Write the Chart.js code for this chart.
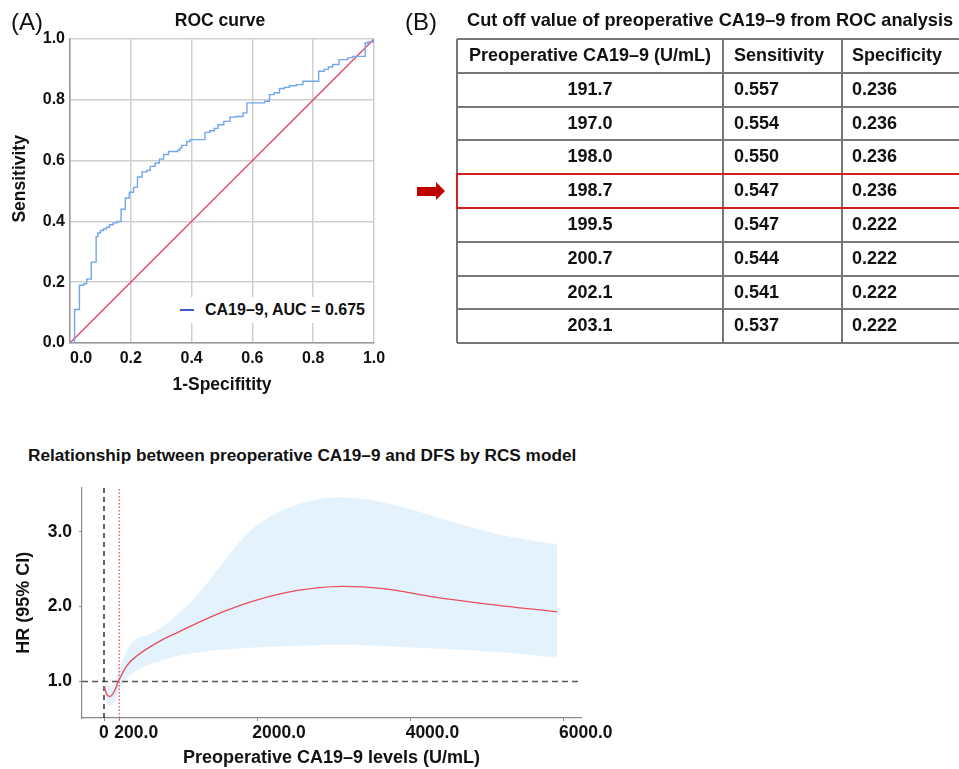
<!DOCTYPE html>
<html><head><meta charset="utf-8">
<script src="https://cdn.jsdelivr.net/npm/chart.js@4.4.1/dist/chart.umd.min.js"></script>
<style>
body{margin:0;width:959px;height:769px;overflow:hidden;background:#fff;position:relative;font-family:"Liberation Sans",Arial,sans-serif;color:#111}
.abs{position:absolute;white-space:nowrap}
.ttl{font-weight:bold;font-size:17.5px;line-height:20px}
canvas{position:absolute;left:0;top:0}
#roc{left:0;top:0}
#rcs{left:0;top:470px}
.hl{position:absolute;height:2px;background:#777}
.vl{position:absolute;width:2px;background:#777}
.cell{position:absolute;font-weight:bold;font-size:18px;white-space:nowrap}
</style></head>
<body>
<canvas id="roc" width="400" height="400"></canvas>
<canvas id="rcs" width="640" height="299"></canvas>

<div class="abs" style="left:11px;top:8px;font-size:24px;line-height:28px">(A)</div>
<div class="abs ttl" style="left:120px;width:200px;text-align:center;top:10px">ROC curve</div>
<div class="abs" style="left:405px;top:8px;font-size:24px;line-height:28px">(B)</div>
<div class="abs ttl" style="left:467px;top:10px;font-size:18.2px">Cut off value of preoperative CA19–9 from ROC analysis</div>
<div class="abs ttl" style="left:28px;top:445px;font-size:17.2px">Relationship between preoperative CA19–9 and DFS by RCS model</div>

<div id="legend" class="abs" style="left:174px;top:297px;width:198px;height:26px;background:#fff">
  <div class="abs" style="left:6px;top:12px;width:14px;height:2px;background:#3a5bc8"></div>
  <div class="abs" style="left:31px;top:3px;font-weight:bold;font-size:16px;line-height:20px">CA19–9, AUC = 0.675</div>
</div>

<div id="table"></div>
<svg class="abs" style="left:415px;top:180px" width="32" height="22"><polygon points="2,7 21,7 21,2 30,11 21,20 21,16 2,16" fill="#c00000"/></svg>

<script>
// ---------- ROC data ----------
const rocFpr = [0, 0.015, 0.031, 0.045, 0.055, 0.07, 0.086, 0.092, 0.1, 0.11, 0.12, 0.13, 0.142, 0.155, 0.168, 0.182, 0.195, 0.209, 0.222, 0.237, 0.253, 0.264, 0.28, 0.294, 0.308, 0.324, 0.355, 0.362, 0.367, 0.384, 0.395, 0.444, 0.46, 0.475, 0.487, 0.506, 0.526, 0.545, 0.569, 0.582, 0.64, 0.656, 0.672, 0.689, 0.705, 0.722, 0.744, 0.766, 0.818, 0.836, 0.85, 0.864, 0.885, 0.913, 0.929, 0.971, 0.98, 1.0];
const rocTpr = [0, 0.11, 0.19, 0.195, 0.21, 0.266, 0.35, 0.362, 0.37, 0.375, 0.381, 0.389, 0.395, 0.40, 0.44, 0.477, 0.496, 0.512, 0.546, 0.563, 0.568, 0.581, 0.592, 0.605, 0.62, 0.63, 0.635, 0.641, 0.65, 0.663, 0.669, 0.693, 0.698, 0.706, 0.718, 0.729, 0.743, 0.745, 0.757, 0.79, 0.795, 0.817, 0.823, 0.837, 0.841, 0.846, 0.85, 0.861, 0.894, 0.9, 0.908, 0.916, 0.932, 0.938, 0.943, 0.987, 0.99, 1.0];
const refLine = [0, 1];
const rocTicks = [0, 0.2, 0.4, 0.6, 0.8, 1.0];

// ---------- Table data ----------
const tableHeader = ['Preoperative CA19–9 (U/mL)', 'Sensitivity', 'Specificity'];
const cutoffs = ['191.7', '197.0', '198.0', '198.7', '199.5', '200.7', '202.1', '203.1'];
const sensitivity = ['0.557', '0.554', '0.550', '0.547', '0.547', '0.544', '0.541', '0.537'];
const specificity = ['0.236', '0.236', '0.236', '0.236', '0.222', '0.222', '0.222', '0.222'];
const highlightIndex = 3;

// ---------- RCS data ----------
const rcsX  = [5, 30, 78, 130, 187, 296, 426, 730, 991, 1300, 1600, 1904, 2339, 2774, 3122, 3643, 4296, 4948, 5913];
const rcsHR = [0.93, 0.84, 0.80, 0.86, 1.0, 1.21, 1.34, 1.54, 1.67, 1.82, 1.95, 2.06, 2.18, 2.25, 2.27, 2.24, 2.13, 2.04, 1.93];
const bandX     = [5, 50, 90, 150, 190, 290, 400, 600, 800, 1000, 1250, 1500, 1904, 2339, 2774, 3035, 3426, 3861, 4513, 5165, 5913];
const bandUpper = [0.98, 0.95, 0.93, 1.03, 1.14, 1.40, 1.55, 1.63, 1.76, 1.93, 2.20, 2.52, 3.01, 3.29, 3.43, 3.46, 3.43, 3.34, 3.14, 2.96, 2.83];
const bandLower = [0.88, 0.70, 0.68, 0.76, 0.86, 1.03, 1.13, 1.23, 1.30, 1.35, 1.39, 1.42, 1.45, 1.47, 1.485, 1.49, 1.485, 1.46, 1.43, 1.39, 1.32];
const cutoffValue = 198.7;
const rcsXTicks = [0, 200, 2000, 4000, 6000];
const rcsYTicks = [1, 2, 3];
const rcsXRange = [-287, 6222];
const rcsYRange = [0.513, 3.59];

Chart.defaults.font.family = '"Liberation Sans", Arial, sans-serif';
Chart.defaults.color = '#111';

// ---------- Table (HTML) ----------
(function(){
  const t = document.getElementById('table');
  const top0 = 39, rowH = 33.8, left0 = 457, c1 = 723, c2 = 842;
  let html = '';
  const rows = [tableHeader].concat(cutoffs.map((c,i)=>[c, sensitivity[i], specificity[i]]));
  for (let i = 0; i <= rows.length; i++) {
    html += `<div class="hl" style="left:${left0}px;width:${959-left0}px;top:${(top0+i*rowH-1).toFixed(1)}px"></div>`;
  }
  [left0, c1, c2].forEach(x => {
    html += `<div class="vl" style="left:${x-1}px;top:${top0}px;height:${rows.length*rowH}px"></div>`;
  });
  rows.forEach((r,i) => {
    const y = top0 + i*rowH;
    html += `<div class="cell" style="left:${left0}px;width:${c1-left0}px;text-align:center;top:${y.toFixed(1)}px;height:${rowH}px;line-height:${rowH}px">${r[0]}</div>`;
    html += `<div class="cell" style="left:${c1+11}px;top:${y.toFixed(1)}px;height:${rowH}px;line-height:${rowH}px">${r[1]}</div>`;
    html += `<div class="cell" style="left:${c2+10}px;top:${y.toFixed(1)}px;height:${rowH}px;line-height:${rowH}px">${r[2]}</div>`;
  });
  const hy = top0 + (highlightIndex+1)*rowH;
  html += `<div style="position:absolute;left:${left0-1}px;top:${(hy-1).toFixed(1)}px;width:600px;height:${(rowH-2).toFixed(1)}px;border:2px solid #d42020"></div>`;
  t.innerHTML = html;
})();

// ---------- ROC chart ----------
new Chart(document.getElementById('roc'), {
  type: 'line',
  data: {
    datasets: [
      { data: rocFpr.map((x,i)=>({x, y: rocTpr[i]})), borderColor: '#72a6ef', borderWidth: 1.4, pointRadius: 0, stepped: 'before', fill: false },
      { data: refLine.map(v=>({x:v, y:v})), borderColor: '#e2405e', borderWidth: 1.3, pointRadius: 0, fill: false }
    ]
  },
  options: {
    responsive: false, animation: false,
    layout: { padding: { top: 39, right: 26, left: 0, bottom: 0 } },
    plugins: { legend: { display: false }, tooltip: { enabled: false } },
    scales: {
      x: {
        type: 'linear', min: 0, max: 1,
        afterBuildTicks: s => { s.ticks = rocTicks.map(v=>({value:v})); },
        afterFit: s => { s.height = 57; },
        ticks: { callback: v => v === 0 ? '     0.0' : Number(v).toFixed(1), padding: 6, autoSkip: false, maxRotation: 0, font: { size: 16, weight: 'bold' }, color: '#111' },
        grid: { color: '#cfcfcf', lineWidth: 1.5, drawTicks: false },
        border: { color: '#9a9a9a', width: 1.5 },
        title: { display: true, text: '1-Specifitity', font: { size: 17.5, weight: 'bold' }, color: '#111', padding: { top: 0, bottom: 4.5 } }
      },
      y: {
        type: 'linear', min: 0, max: 1,
        afterBuildTicks: s => { s.ticks = rocTicks.map(v=>({value:v})); },
        afterFit: s => { s.width = 70; },
        ticks: { callback: v => Number(v).toFixed(1), padding: 5, font: { size: 16, weight: 'bold' }, color: '#111' },
        grid: { color: '#cfcfcf', lineWidth: 1.5, drawTicks: false },
        border: { color: '#9a9a9a', width: 1.5 },
        title: { display: true, text: '     Sensitivity', font: { size: 17.5, weight: 'bold' }, color: '#111', padding: { top: 9.5, bottom: 0 } }
      }
    }
  }
});

// ---------- RCS chart ----------
new Chart(document.getElementById('rcs'), {
  type: 'line',
  data: {
    datasets: [
      { data: rcsX.map((x,i)=>({x, y: rcsHR[i]})), borderColor: '#e8505b', borderWidth: 1.4, pointRadius: 0, cubicInterpolationMode: 'monotone', fill: false },
      { data: [{x: cutoffValue, y: rcsYRange[0]}, {x: cutoffValue, y: rcsYRange[1]}], borderColor: '#ff3b3b', borderWidth: 1.2, borderDash: [1.5, 2], pointRadius: 0, fill: false },
      { data: [{x: 0, y: rcsYRange[0]}, {x: 0, y: rcsYRange[1]}], borderColor: '#222', borderWidth: 1.4, borderDash: [5, 4], pointRadius: 0, fill: false },
      { data: [{x: rcsXRange[0], y: 1}, {x: rcsXRange[1], y: 1}], borderColor: '#555', borderWidth: 1.3, borderDash: [6, 4], pointRadius: 0, fill: false },
      { data: bandX.map((x,i)=>({x, y: bandUpper[i]})), borderColor: 'rgba(0,0,0,0)', borderWidth: 1, pointRadius: 0, cubicInterpolationMode: 'monotone', fill: false },
      { data: bandX.map((x,i)=>({x, y: bandLower[i]})), borderColor: 'rgba(0,0,0,0)', borderWidth: 1, pointRadius: 0, cubicInterpolationMode: 'monotone', fill: '-1', backgroundColor: 'rgb(228,242,253)' }
    ]
  },
  options: {
    responsive: false, animation: false,
    layout: { padding: { top: 14, right: 59, left: 0, bottom: 0 } },
    plugins: { legend: { display: false }, tooltip: { enabled: false } },
    scales: {
      x: {
        type: 'linear', min: rcsXRange[0], max: rcsXRange[1],
        afterBuildTicks: s => { s.ticks = rcsXTicks.map(v=>({value:v})); },
        afterFit: s => { s.height = 51; },
        ticks: { callback: v => v === 0 ? '0' : Number(v).toFixed(1), align: 'start', labelOffset: -5, padding: 2, autoSkip: false, maxRotation: 0, font: { size: 17.5, weight: 'bold' }, color: '#111' },
        grid: { drawOnChartArea: false, drawTicks: true, tickLength: 3, color: '#888' },
        border: { color: '#888', width: 1.2 },
        title: { display: true, text: 'Preoperative CA19–9 levels (U/mL)', font: { size: 18, weight: 'bold' }, color: '#111', padding: { top: 0, bottom: 0 } }
      },
      y: {
        type: 'linear', min: rcsYRange[0], max: rcsYRange[1],
        afterBuildTicks: s => { s.ticks = rcsYTicks.map(v=>({value:v})); },
        afterFit: s => { s.width = 82; },
        ticks: { callback: v => Number(v).toFixed(1), padding: 7, font: { size: 17.5, weight: 'bold' }, color: '#111' },
        grid: { drawOnChartArea: false, drawTicks: true, tickLength: 3, color: '#888' },
        border: { color: '#888', width: 1.2 },
        title: { display: true, text: 'HR (95% CI)', font: { size: 18, weight: 'bold' }, color: '#111', padding: { top: 13, bottom: 0 } }
      }
    }
  }
});
</script>
</body></html>
